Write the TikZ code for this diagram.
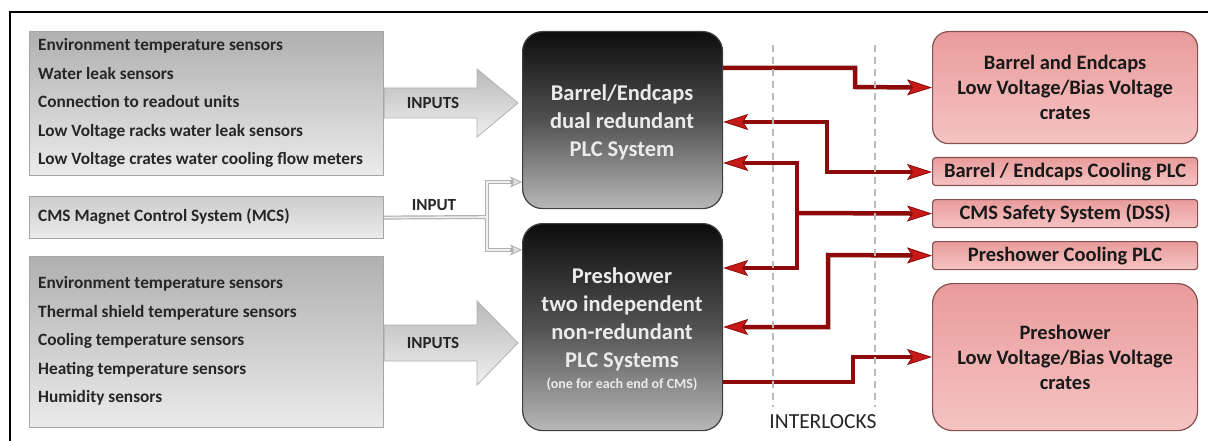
\documentclass[tikz,border=0pt]{standalone}
\usepackage{fontspec}
\setmainfont{Carlito}
\usetikzlibrary{arrows.meta}
\pgfdeclarelayer{bg}
\pgfsetlayers{bg,main}
\definecolor{redln}{RGB}{140,10,10}
\definecolor{redtip}{RGB}{200,25,25}
\definecolor{pinkT}{RGB}{233,155,155}
\definecolor{pinkB}{RGB}{246,195,195}
\definecolor{pinkD}{RGB}{135,80,80}
\tikzset{
  greybox/.style={draw=gray!70, line width=1.2pt, top color=gray!62, bottom color=gray!16, anchor=north west, inner sep=0pt},
  plcbox/.style={draw=gray!50!black, line width=1.2pt, rounded corners=20pt, top color=black!95, bottom color=black!28, middle color=black!68, anchor=north west, inner sep=0pt},
  pinkbox/.style={draw=pinkD, line width=1.2pt, top color=pinkT, bottom color=pinkB, anchor=north west, inner sep=0pt, align=center, text=black!90, font=\fontsize{20.5}{25}\selectfont\bfseries},
  bigarrow/.style={draw=gray!60, line width=0.8pt, top color=gray!55, bottom color=gray!12},
  lst/.style={font=\fontsize{17.3}{28.5}\selectfont\bfseries, align=left, inner sep=0pt, text=black!85, anchor=west},
  lbl/.style={font=\fontsize{17}{20}\selectfont\bfseries, inner sep=0pt, text=black!85},
  plctext/.style={font=\fontsize{22.5}{28}\selectfont\bfseries, align=center, inner sep=0pt, text=white!92!black},
  redline/.style={draw=redln, line width=4.5pt},
  rtip/.tip={Stealth[length=25pt,width=16pt,inset=5pt,line width=0.8pt,fill=redtip]},
  gtip/.tip={Stealth[length=12pt,width=11pt,inset=3pt,line width=1pt,fill=gray!20]},
  gline/.style={draw=gray!60, line width=4pt},
  gcore/.style={draw=gray!12, line width=1.6pt},
  dashln/.style={draw=gray!55, line width=1.6pt, dash pattern=on 7pt off 5pt},
}
\begin{document}
\begin{tikzpicture}[x=1pt,y=-1pt]
\useasboundingbox (0,0) rectangle (1208,441);
\begin{pgfonlayer}{bg}
\fill[white] (0,0) rectangle (1208,441);
\end{pgfonlayer}
\draw[line width=2.2pt] (10,441) -- (10,12) -- (1208,12);

% left boxes
\node[greybox, minimum width=354pt, minimum height=144pt] (tbox) at (29,31) {};
\node[greybox, minimum width=354pt, minimum height=42pt, top color=gray!40, bottom color=gray!15] (mcs) at (29,196) {};
\node[greybox, minimum width=354pt, minimum height=171pt] (bbox) at (29,256) {};

\node[lst] (tlist) at (38,103) {Environment temperature sensors\\Water leak sensors\\Connection to readout units\\Low Voltage racks water leak sensors\\Low Voltage crates water cooling flow meters};
\node[lst] (mcstext) at (38,217) {CMS Magnet Control System (MCS)};
\node[lst] (blist) at (38,341) {Environment temperature sensors\\Thermal shield temperature sensors\\Cooling temperature sensors\\Heating temperature sensors\\Humidity sensors};

% PLC boxes
\node[plcbox, minimum width=200pt, minimum height=177pt] (plc1) at (522,31) {};
\node[plcbox, minimum width=200pt, minimum height=207pt] (plc2) at (522,223) {};
\node[plctext] (plc1text) at (622,122) {Barrel/Endcaps\\dual redundant\\PLC System};
\node[plctext] (plc2text) at (622,319) {Preshower\\two independent\\non-redundant\\PLC Systems};
\node[font=\fontsize{14}{16}\selectfont\bfseries, text=white!92!black, inner sep=0pt] (plc2small) at (622,384) {(one for each end of CMS)};

% big input arrows (behind boxes)
\begin{pgfonlayer}{bg}
\path[bigarrow] (tbox.east |- 0,88) -- (477,88) -- (477,69) -- (518,103) -- (477,137) -- (477,118) -- (tbox.east |- 0,118) -- cycle;
\path[bigarrow] (bbox.east |- 0,325) -- (477,325) -- (477,301) -- (518,343) -- (477,385) -- (477,361) -- (bbox.east |- 0,361) -- cycle;
\end{pgfonlayer}
\node[lbl] (in1) at (433,103) {INPUTS};
\node[lbl] (in2) at (433,343) {INPUTS};
\node[lbl] (in0) at (434,205) {INPUT};

% MCS connector
\coordinate (j) at (487,217);
\draw[gline] (mcs.east) -- (j);
\draw[gline,-gtip] (j) |- (plc1.west |- 0,182);
\draw[gline,-gtip] (j) |- (plc2.west |- 0,250);
\draw[gcore] (mcs.east) -- (j);
\draw[gcore, shorten >=12pt] (j) |- (plc1.west |- 0,182);
\draw[gcore, shorten >=12pt] (j) |- (plc2.west |- 0,250);

% pink boxes
\node[pinkbox, rounded corners=16pt, minimum width=265pt, minimum height=112pt] (pA) at (932,31) {Barrel and Endcaps\\Low Voltage/Bias Voltage\\crates};
\node[pinkbox, rounded corners=3pt, minimum width=265pt, minimum height=28pt] (pB) at (932,157) {Barrel / Endcaps Cooling PLC};
\node[pinkbox, rounded corners=3pt, minimum width=265pt, minimum height=28pt] (pC) at (932,199) {CMS Safety System (DSS)};
\node[pinkbox, rounded corners=3pt, minimum width=265pt, minimum height=28pt] (pD) at (932,241) {Preshower Cooling PLC};
\node[pinkbox, rounded corners=20pt, minimum width=265pt, minimum height=147pt] (pE) at (932,283) {Preshower\\Low Voltage/Bias Voltage\\crates};

% red interlock connectors
\draw[redline,-rtip] (plc1.east |- 0,68) -- (855,68) -- (855,87) -- (pA.west);
\draw[redline,rtip-rtip] (plc1.east |- 0,122) -- (827,122) -- (827,172) -- (pB.west |- 0,172);
\coordinate (k) at (797,213);
\draw[redline,rtip-rtip] (plc1.east |- 0,163) -- (797,163) -- (797,268) -- (plc2.east |- 0,268);
\draw[redline,-rtip] (k) -- (pC.west);
\draw[redline,rtip-rtip] (pD.west) -- (828,255) -- (828,327) -- (plc2.east |- 0,327);
\draw[redline,-rtip] (plc2.east |- 0,382) -- (853,382) -- (853,357) -- (pE.west |- 0,357);

% interlock dashed lines
\coordinate (d1t) at (773,45); \coordinate (d1b) at (773,407);
\coordinate (d2t) at (875,45); \coordinate (d2b) at (875,407);
\draw[dashln] (d1t) -- (d1b);
\draw[dashln] (d2t) -- (d2b);
\node[font=\fontsize{21.5}{24}\selectfont, text=black!85, inner sep=0pt] (ilk) at (823,422) {INTERLOCKS};
\end{tikzpicture}
\end{document}
